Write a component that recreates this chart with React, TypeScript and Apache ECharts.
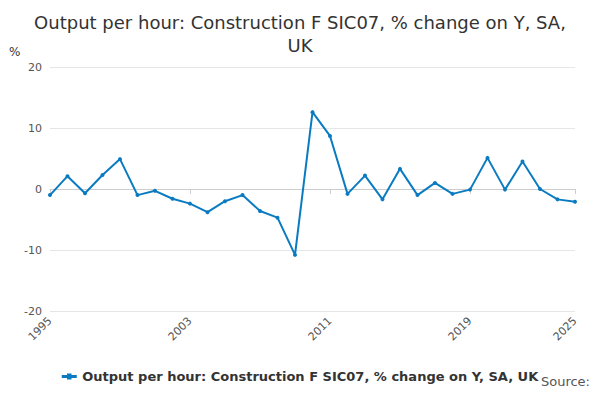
import React, { useEffect, useRef } from 'react';
import * as echarts from 'echarts';

const years = Array.from({ length: 31 }, (_, i) => String(1995 + i));
const values = [
  -1.0, 2.1, -0.7, 2.3, 4.9, -1.0, -0.3, -1.6, -2.4, -3.8,
  -2.0, -1.0, -3.6, -4.7, -10.8, 12.6, 8.7, -0.8, 2.2, -1.7,
  3.3, -1.0, 1.0, -0.8, -0.1, 5.1, -0.1, 4.5, 0.0, -1.7, -2.1,
];
const labelYears = ['1995', '2003', '2011', '2019', '2025'];
const seriesName = 'Output per hour: Construction F SIC07, % change on Y, SA, UK';

const App: React.FC = () => {
  const ref = useRef<HTMLDivElement>(null);

  useEffect(() => {
    if (!ref.current) return;
    const chart = echarts.init(ref.current, null, { renderer: 'svg' });
    const font = 'DejaVu Sans, sans-serif';
    const showLabel = (i: number) => labelYears.includes(years[i]);
    chart.setOption({
      animation: false,
      textStyle: { fontFamily: font },
      title: {
        text: 'Output per hour: Construction F SIC07, % change on Y, SA,\nUK',
        left: 'center',
        top: -2,
        textStyle: { fontSize: 18, fontWeight: 'normal', color: '#333', lineHeight: 23, fontFamily: font },
      },
      graphic: [
        { type: 'text', left: 1, top: 38, style: { text: '%', fontSize: 12, fill: '#333', fontFamily: font } },
        { type: 'text', right: 2, top: 367, style: { text: 'Source:', fontSize: 13, fill: '#555', fontFamily: font } },
      ],
      legend: {
        top: 357,
        left: 'center',
        icon: 'path://M0,4h10v2h-10z M3.5,3h3v4h-3z',
        itemWidth: 16,
        itemHeight: 6,
        itemGap: 4,
        textStyle: { fontSize: 13, fontWeight: 'bold', color: '#333', fontFamily: font },
      },
      grid: { left: 42, right: 17, top: 59, bottom: 81 },
      xAxis: {
        type: 'category',
        data: years,
        boundaryGap: false,
        axisLine: { lineStyle: { color: '#ccc' } },
        axisTick: { interval: (i: number) => showLabel(i), lineStyle: { color: '#ccc' } },
        axisLabel: {
          interval: (i: number) => showLabel(i),
          rotate: 45,
          color: '#555',
          fontSize: 11,
          fontFamily: font,
        },
      },
      yAxis: {
        type: 'value',
        min: -20,
        max: 20,
        interval: 10,
        axisLabel: { color: '#555', fontSize: 11, fontFamily: font },
        splitLine: { lineStyle: { color: '#e6e6e6' } },
      },
      series: [
        {
          name: seriesName,
          type: 'line',
          data: values,
          color: '#0a7bc1',
          symbol: 'circle',
          symbolSize: 4,
          lineStyle: { width: 2 },
        },
      ],
    });
    return () => chart.dispose();
  }, []);

  return <div ref={ref} style={{ width: 584, height: 384 }} />;
};

export default App;
